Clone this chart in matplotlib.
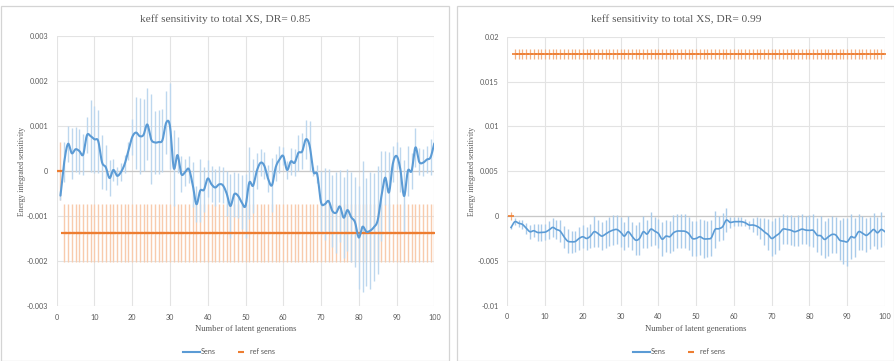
import numpy as np
import matplotlib
matplotlib.use("Agg")
import matplotlib.pyplot as plt
from matplotlib.lines import Line2D
from matplotlib.patches import Rectangle

# ---------------------------------------------------------------- data
generations = list(range(1, 101))

sens_085 = [
    -0.00055, 0.0002, 0.0006, 0.00039, 0.00048, 0.00044, 0.00036, 0.00079, 0.00077, 0.0007,
    0.00066, 0.00019, 0.00008, -0.00016, 0.00002, -0.00011, -0.00003, 0.00015, 0.00045, 0.00075,
    0.00085, 0.00077, 0.0008, 0.00103, 0.0007, 0.00063, 0.00064, 0.00068, 0.00107, 0.00099,
    0.00006, 0.00035, -0.00007, -0.00003, 0.00004, -0.0003, -0.00074, -0.00044, -0.00042, -0.00017,
    -0.0003, -0.00037, -0.0003, -0.00032, -0.0005, -0.00078, -0.00052, -0.00055, -0.0007, -0.00078,
    -0.00026, -0.00033, 0.0, 0.00018, 0.00011, -0.00018, -0.00032, 0.00008, 0.00025, 0.00033,
    0.00002, 0.00021, 0.00018, 0.0004, 0.00043, 0.0007, 0.00055, -0.00002, -0.00008, -0.0007,
    -0.00074, -0.00067, -0.00089, -0.00093, -0.00079, -0.00104, -0.00087, -0.00103, -0.00114, -0.00148,
    -0.00124, -0.00135, -0.00133, -0.00125, -0.0011, -0.00056, -0.00015, -0.00048, 0.00015, 0.00033,
    0.00004, -0.00056, 0.0, 0.0, 0.00052, 0.0002, 0.00018, 0.00025, 0.0003, 0.00061,
]
sens_085_err = [
    0.0001, 0.00045, 0.0004, 0.00056, 0.0005, 0.0005, 0.00045, 0.0004, 0.0008, 0.00075,
    0.0007, 0.0006, 0.0005, 0.0004, 0.00025, 0.0002, 0.0002, 0.0002, 0.0002, 0.0004,
    0.0008, 0.00085, 0.0008, 0.0008, 0.001, 0.0007, 0.0007, 0.0007, 0.0007, 0.00095,
    0.00085, 0.0004, 0.0004, 0.0003, 0.0003, 0.0005, 0.0004, 0.0007, 0.0005, 0.0004,
    0.0004, 0.0004, 0.0004, 0.0004, 0.0005, 0.0007, 0.0005, 0.0005, 0.0006, 0.0007,
    0.0008, 0.0006, 0.0004, 0.0003, 0.0003, 0.0003, 0.0006, 0.0003, 0.0003, 0.0002,
    0.0002, 0.0003, 0.0003, 0.0004, 0.0004, 0.00043, 0.00055, 0.0001, 0.0002, 0.0007,
    0.0008, 0.0007, 0.0008, 0.0009, 0.0008, 0.0009, 0.0009, 0.001, 0.001, 0.00115,
    0.00146, 0.0012, 0.0013, 0.0012, 0.0012, 0.001, 0.0006, 0.0009, 0.0004, 0.0003,
    0.0005, 0.0008, 0.00055, 0.0004, 0.00044, 0.0003, 0.0003, 0.0003, 0.0004, 0.0003,
]
ref_085_first = 0.0
ref_085_level = -0.00138
ref_085_err = 0.00065

sens_099 = [
    -0.00127, -0.00063, -0.0008, -0.00093, -0.00135, -0.00175, -0.00164, -0.00183, -0.00183, -0.0018,
    -0.00157, -0.00127, -0.0015, -0.00168, -0.00231, -0.0028, -0.00287, -0.00284, -0.0025, -0.00231,
    -0.0025, -0.00224, -0.00175, -0.00194, -0.00224, -0.00201, -0.00175, -0.00157, -0.0015, -0.0018,
    -0.00224, -0.00175, -0.00224, -0.00269, -0.0025, -0.00175, -0.00201, -0.00146, -0.00168, -0.00194,
    -0.00258, -0.00224, -0.00231, -0.00187, -0.00168, -0.00168, -0.0017, -0.00194, -0.0025, -0.0025,
    -0.00231, -0.00254, -0.00254, -0.00243, -0.0015, -0.00142, -0.00119, -0.00045, -0.00071, -0.00063,
    -0.00063, -0.00063, -0.00075, -0.001, -0.001, -0.00112, -0.00138, -0.00175, -0.00205, -0.0025,
    -0.00224, -0.00194, -0.00146, -0.0015, -0.00157, -0.00175, -0.00164, -0.00146, -0.00157, -0.0016,
    -0.0016, -0.00213, -0.0022, -0.00261, -0.00231, -0.00205, -0.00213, -0.00269, -0.0028, -0.00287,
    -0.00231, -0.0024, -0.00175, -0.0019, -0.00216, -0.00187, -0.0015, -0.00187, -0.0015, -0.00175,
]
sens_099_err = [
    0.0002, 0.0004, 0.0004, 0.0005, 0.0006, 0.0008, 0.0007, 0.0009, 0.0009, 0.0009,
    0.001, 0.0011, 0.0011, 0.0012, 0.0012, 0.0013, 0.0012, 0.0012, 0.0013, 0.0013,
    0.0013, 0.0013, 0.0017, 0.0015, 0.0016, 0.0016, 0.0016, 0.0017, 0.0016, 0.0017,
    0.0016, 0.0017, 0.0016, 0.0017, 0.0018, 0.0018, 0.0016, 0.0019, 0.0016, 0.0016,
    0.0019, 0.0018, 0.0018, 0.002, 0.0019, 0.0019, 0.0019, 0.0018, 0.002, 0.002,
    0.002, 0.0021, 0.002, 0.002, 0.0021, 0.0014, 0.0015, 0.0013, 0.0006, 0.0005,
    0.0005, 0.0005, 0.0004, 0.0005, 0.0008, 0.001, 0.0012, 0.0015, 0.0017, 0.002,
    0.002, 0.0018, 0.0017, 0.0016, 0.0017, 0.0016, 0.0017, 0.0017, 0.0016, 0.0017,
    0.0018, 0.0019, 0.0022, 0.0021, 0.0021, 0.0021, 0.002, 0.0022, 0.0026, 0.0027,
    0.0025, 0.0022, 0.002, 0.0019, 0.0019, 0.0018, 0.0018, 0.0018, 0.0019, 0.0015,
]
ref_099_first = 0.0
ref_099_first_err = 0.00045
ref_099_level = 0.0181
ref_099_err = 0.00055

yticks_085 = [-0.003, -0.002, -0.001, 0.0, 0.001, 0.002, 0.003]
yticklabels_085 = ["-0.003", "-0.002", "-0.001", "0", "0.001", "0.002", "0.003"]
yticks_099 = [-0.01, -0.005, 0.0, 0.005, 0.01, 0.015, 0.02]
yticklabels_099 = ["-0.01", "-0.005", "0", "0.005", "0.01", "0.015", "0.02"]
xticks = list(range(0, 101, 10))

titles = ["keff sensitivity to total XS, DR= 0.85", "keff sensitivity to total XS, DR= 0.99"]
xlabel = "Number of latent generations"
ylabel = "Energy integrated sensitivity"
legend_labels = ["Sens", "ref sens"]

# ---------------------------------------------------------------- style
W, H = 894, 361
BLUE = "#5B9BD5"
ORANGE = "#ED7D31"
GRID = "#e3e3e3"
TEXT = "#595959"
SERIF = ["Liberation Serif", "DejaVu Serif"]
SANS = ["Lato", "DejaVu Sans"]


def smooth(x, y, n=12):
    """Catmull-Rom curve through the points, like a smoothed line series."""
    x = np.asarray(x, float)
    y = np.asarray(y, float)
    px = np.concatenate([[2 * x[0] - x[1]], x, [2 * x[-1] - x[-2]]])
    py = np.concatenate([[2 * y[0] - y[1]], y, [2 * y[-1] - y[-2]]])
    t = np.linspace(0, 1, n, endpoint=False)[:, None]
    xs, ys = [], []
    for arr, out in ((px, xs), (py, ys)):
        p0, p1, p2, p3 = arr[:-3], arr[1:-2], arr[2:-1], arr[3:]
        seg = 0.5 * ((2 * p1) + (-p0 + p2) * t + (2 * p0 - 5 * p1 + 4 * p2 - p3) * t ** 2
                     + (-p0 + 3 * p1 - 3 * p2 + p3) * t ** 3)
        out.append(np.concatenate([seg.T.ravel(), [arr[-2]]]))
    return xs[0], ys[0]


def px_axes(fig, left, top, right, bottom):
    return fig.add_axes([left / W, 1 - bottom / H, (right - left) / W, (bottom - top) / H])


def style_axes(ax, yticks, ylabels, ylim):
    ax.set_xlim(0, 100)
    ax.set_ylim(*ylim)
    ax.set_xticks(xticks)
    ax.set_xticklabels([str(v) for v in xticks])
    ax.set_yticks(yticks)
    ax.set_yticklabels(ylabels)
    for s in ax.spines.values():
        s.set_visible(False)
    ax.grid(True, color=GRID, lw=0.8)
    ax.set_axisbelow(True)
    ax.tick_params(length=0, labelsize=5.2, labelcolor=TEXT)
    ax.tick_params(axis="x", pad=5.5)
    ax.tick_params(axis="y", pad=6)
    for lab in ax.get_xticklabels() + ax.get_yticklabels():
        lab.set_family(SANS)
    ax.axhline(0, color="#c8c8c8", lw=0.9, zorder=1)


fig = plt.figure(figsize=(W / 100, H / 100), dpi=100)
fig.patch.set_facecolor("white")

# panel frames
for x0, x1 in ((1, 449), (457, 893.5)):
    fig.add_artist(Rectangle((x0 / W, 0), (x1 - x0) / W, 1 - 5.7 / H,
                             transform=fig.transFigure, fill=False,
                             edgecolor="#d4d4d4", lw=0.9))

x = np.array(generations)

# ---------------- DR = 0.85
ax1 = px_axes(fig, 56.7, 35.7, 434.3, 306)
style_axes(ax1, yticks_085, yticklabels_085, (-0.003, 0.003))
ref1 = np.array([ref_085_first] + [ref_085_level] * (len(x) - 1))
ax1.errorbar(x, ref1, yerr=ref_085_err, fmt="none", ecolor="#F8CBAD", elinewidth=1.0, zorder=2)
ax1.errorbar(x, sens_085, yerr=sens_085_err, fmt="none", ecolor="#BDD7EE", elinewidth=1.0, zorder=3)
ax1.plot(x, ref1, ls="none", marker="_", ms=4.2, mew=1.6, color=ORANGE, zorder=4)
sx, sy = smooth(x, sens_085)
ax1.plot(sx, sy, color=BLUE, lw=1.5, zorder=5, solid_capstyle="round")

# ---------------- DR = 0.99
ax2 = px_axes(fig, 507.3, 36.7, 885, 305.7)
style_axes(ax2, yticks_099, yticklabels_099, (-0.01, 0.02))
ref2 = np.array([ref_099_first] + [ref_099_level] * (len(x) - 1))
ref2_err = np.array([ref_099_first_err] + [ref_099_err] * (len(x) - 1))
ax2.errorbar(x, ref2, yerr=ref2_err, fmt="none", ecolor="#F4B183", elinewidth=0.9, zorder=2)
ax2.errorbar(x, sens_099, yerr=sens_099_err, fmt="none", ecolor="#A9CBEA", elinewidth=1.0, zorder=3)
ax2.plot(x, ref2, ls="none", marker="_", ms=4.2, mew=1.2, color=ORANGE, zorder=4)
sx, sy = smooth(x, sens_099)
ax2.plot(sx, sy, color=BLUE, lw=1.2, zorder=5)

# ---------------- text
for cx, title in ((225, titles[0]), (676, titles[1])):
    fig.text(cx / W, 1 - 19 / H, title, ha="center", va="center",
             fontsize=8.2, color=TEXT, family=SERIF)
for cx in (245.5, 696):
    fig.text(cx / W, 1 - 329 / H, xlabel, ha="center", va="center",
             fontsize=6.2, color=TEXT, family=SERIF)
for cx in (21.7, 472.5):
    fig.text(cx / W, 1 - 171 / H, ylabel, ha="center", va="center", rotation=90,
             fontsize=5.6, color=TEXT, family=SERIF)

handles = [Line2D([], [], color=BLUE, lw=1.5),
           Line2D([], [], ls="none", marker="_", ms=4, mew=1.5, color=ORANGE)]
for cx in (229, 679):
    leg = fig.legend(handles, legend_labels, loc="center", ncol=2,
                     bbox_to_anchor=(cx / W, 1 - 352 / H), frameon=False,
                     handlelength=2.4, handletextpad=0.1, columnspacing=2.2,
                     prop={"family": SANS, "size": 5.2})
    for t in leg.get_texts():
        t.set_color(TEXT)

fig.savefig("out.png", dpi=100, facecolor="white")
